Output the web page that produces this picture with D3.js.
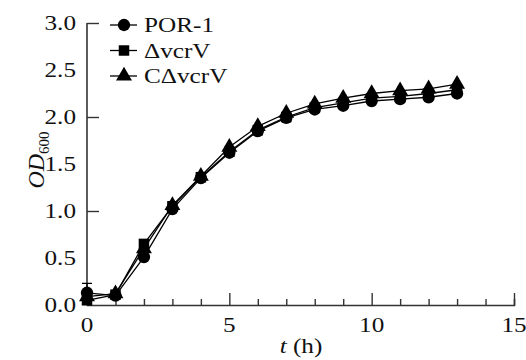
<!DOCTYPE html>
<html>
<head>
<meta charset="utf-8">
<script src="https://cdn.jsdelivr.net/npm/d3@7"></script>
<style>
  body { margin: 0; background: #fff; }
</style>
</head>
<body>
<div id="chart"></div>
<script>
// time points (h)
var hours = [0, 1, 2, 3, 4, 5, 6, 7, 8, 9, 10, 11, 12, 13];
// OD600 per strain
var por1 = [0.13, 0.10, 0.51, 1.02, 1.35, 1.62, 1.85, 1.99, 2.08, 2.12, 2.17, 2.19, 2.21, 2.25];
var dvcrV = [0.05, 0.11, 0.65, 1.05, 1.36, 1.63, 1.86, 2.00, 2.10, 2.15, 2.20, 2.22, 2.25, 2.29];
var cdvcrV = [0.09, 0.12, 0.60, 1.06, 1.37, 1.68, 1.90, 2.04, 2.14, 2.20, 2.25, 2.28, 2.30, 2.35];
var errPor1 = [0.10, 0.02, 0.03, 0.03, 0.03, 0.03, 0.03, 0.03, 0.03, 0.03, 0.03, 0.03, 0.03, 0.03];
var seriesNames = ["POR-1", "\u0394vcrV", "C\u0394vcrV"];
var xTicks = [0, 5, 10, 15];
var yTicks = [0, 0.5, 1.0, 1.5, 2.0, 2.5, 3.0];

var width = 526, height = 360;
var margin = { top: 23, left: 87, bottom: 55, right: 12 };
var font = "'Liberation Serif', 'Times New Roman', serif";
var stretch = 1.2; // the reference type is a bit wide

var svg = d3.select("#chart")
    .append("svg")
    .attr("width", width)
    .attr("height", height);

var x = d3.scaleLinear().domain([0, 15]).range([margin.left, width - margin.right]);
var y = d3.scaleLinear().domain([0, 3]).range([height - margin.bottom, margin.top]);

var axisColor = "#333";

function label(g, px, py, anchor) {
    return g.append("text")
        .attr("transform", "translate(" + px + "," + py + ") scale(" + stretch + ",1)")
        .attr("text-anchor", anchor)
        .attr("font-family", font)
        .attr("font-size", 21)
        .attr("fill", "#111");
}

// x axis, ticks pointing inward
var xAxis = svg.append("g")
    .attr("transform", "translate(0," + y(0) + ")")
    .call(d3.axisTop(x).tickValues(d3.range(0, 16)).tickSize(6).tickFormat(""));
xAxis.select(".domain").attr("stroke", axisColor).attr("stroke-width", 1.6);
xAxis.selectAll(".tick line")
    .attr("stroke", axisColor).attr("stroke-width", 1.4)
    .attr("y2", function (d) { return d % 5 === 0 ? -12 : -6; });
xAxis.selectAll(".tick").filter(function (d) { return d === 0; }).remove();

var xLabels = svg.append("g");
xTicks.forEach(function (d) {
    label(xLabels, x(d), y(0) + 27, "middle").text(d);
});

// y axis
var yAxis = svg.append("g")
    .attr("transform", "translate(" + x(0) + ",0)")
    .call(d3.axisRight(y).tickValues([1, 2, 3]).tickSize(12).tickFormat(""));
yAxis.select(".domain").attr("stroke", axisColor).attr("stroke-width", 1.6)
    .attr("d", "M0," + y(0) + "V" + y(3));
yAxis.selectAll(".tick line").attr("stroke", axisColor).attr("stroke-width", 1.4);

var yLabels = svg.append("g");
yTicks.forEach(function (d) {
    label(yLabels, x(0) - 11, y(d) + 7, "end").text(d3.format(".1f")(d));
});

// axis titles
var xt = label(svg, 301, 353, "middle");
xt.append("tspan").style("font-style", "italic").text("t");
xt.append("tspan").text(" (h)");

var yt = svg.append("text")
    .attr("transform", "translate(44,160) rotate(-90)")
    .attr("text-anchor", "middle")
    .attr("font-family", font)
    .attr("font-size", 24)
    .attr("fill", "#111");
yt.append("tspan").style("font-style", "italic").text("OD");
yt.append("tspan").attr("dy", 5).attr("font-size", 15).text("600");

// lines
var allSeries = [por1, dvcrV, cdvcrV];
var line = d3.line()
    .x(function (d, i) { return x(hours[i]); })
    .y(function (d) { return y(d); });

svg.append("g").selectAll("path")
    .data(allSeries)
    .join("path")
    .attr("fill", "none")
    .attr("stroke", "#000")
    .attr("stroke-width", 1.3)
    .attr("d", line);

// error bars (mostly hidden under the markers)
svg.append("g").selectAll("g")
    .data(errPor1)
    .join("g")
    .each(function (e, i) {
        var g = d3.select(this);
        var cx = x(hours[i]);
        g.append("line").attr("x1", cx).attr("x2", cx)
            .attr("y1", y(por1[i])).attr("y2", y(por1[i] + e))
            .attr("stroke", "#000").attr("stroke-width", 1.3);
        g.append("line").attr("x1", cx - 5).attr("x2", cx + 5)
            .attr("y1", y(por1[i] + e)).attr("y2", y(por1[i] + e))
            .attr("stroke", "#000").attr("stroke-width", 1.3);
    });

// markers
var symbols = [d3.symbolCircle, d3.symbolSquare, d3.symbolTriangle];
var sizes = [120, 110, 110];
allSeries.forEach(function (s, k) {
    svg.append("g").selectAll("path")
        .data(s)
        .join("path")
        .attr("transform", function (d, i) { return "translate(" + x(hours[i]) + "," + y(d) + ")"; })
        .attr("d", d3.symbol().type(symbols[k]).size(sizes[k]))
        .attr("fill", "#000");
});

// legend
var legend = svg.append("g");
seriesNames.forEach(function (name, k) {
    var ly = 25 + k * 25.5;
    legend.append("line")
        .attr("x1", 110).attr("x2", 137)
        .attr("y1", ly).attr("y2", ly)
        .attr("stroke", "#000").attr("stroke-width", 1.3);
    legend.append("path")
        .attr("transform", "translate(124," + ly + ")")
        .attr("d", d3.symbol().type(symbols[k]).size(sizes[k]))
        .attr("fill", "#000");
    label(legend, 144, ly + 7, "start").text(name);
});
</script>
</body>
</html>
